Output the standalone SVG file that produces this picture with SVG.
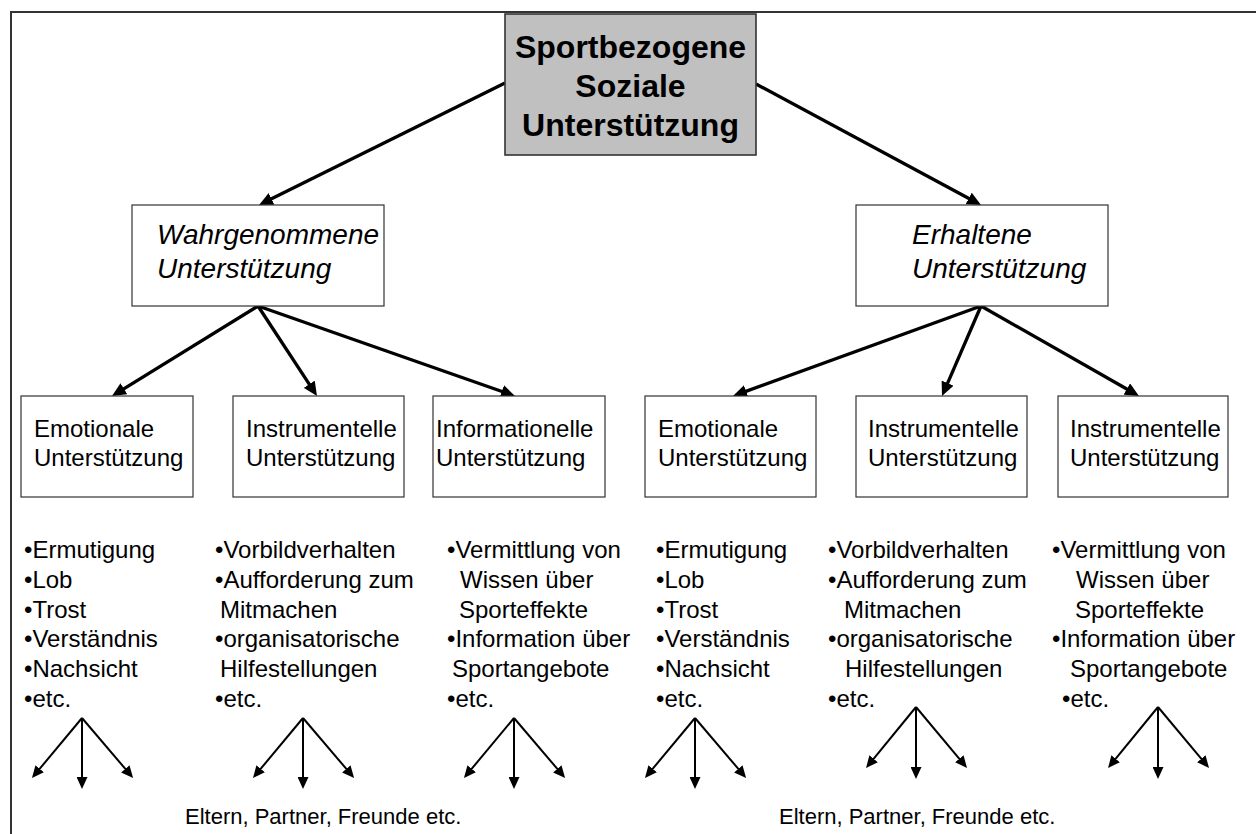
<svg xmlns="http://www.w3.org/2000/svg" width="1256" height="834" viewBox="0 0 1256 834">
  <style>
    text { font-family: "Liberation Sans", Arial, sans-serif; fill: #000; }
    .box { fill: #fff; stroke: #333; stroke-width: 1.2; }
    .root { fill: #c0c0c0; stroke: #333; stroke-width: 1.6; }
    .title { font-size: 32px; font-weight: bold; text-anchor: middle; }
    .mid { font-size: 28px; font-style: italic; }
    .leaf { font-size: 24px; }
    .list { font-size: 24px; }
    .note { font-size: 22px; }
    .big { stroke: #000; stroke-width: 3.3; fill: none; marker-end: url(#headBig); }
    .small { stroke: #000; stroke-width: 2; fill: none; marker-end: url(#headSmall); }
  </style>
  <defs>
    <marker id="headBig" markerUnits="userSpaceOnUse" markerWidth="14" markerHeight="13" refX="4" refY="6.5" orient="auto">
      <path d="M0,0 L14,6.5 L0,13 z" fill="#000"/>
    </marker>
    <marker id="headSmall" markerUnits="userSpaceOnUse" markerWidth="12" markerHeight="11" refX="4" refY="5.5" orient="auto">
      <path d="M0,0 L12,5.5 L0,11 z" fill="#000"/>
    </marker>
  </defs>

  <rect width="1256" height="834" fill="#fff"/>
  <!-- outer frame, runs off the right and bottom edges -->
  <rect x="11" y="12" width="1260" height="840" fill="none" stroke="#333" stroke-width="2"/>

  <g id="connectors">
    <line class="big" x1="505" y1="83" x2="268" y2="200.6"/>
    <line class="big" x1="756" y1="84" x2="972.2" y2="200.3"/>

    <line class="big" x1="258" y1="306" x2="120.5" y2="390.8"/>
    <line class="big" x1="258" y1="306" x2="311.5" y2="387.6"/>
    <line class="big" x1="258" y1="306" x2="505.6" y2="392.7"/>

    <line class="big" x1="981" y1="306" x2="742.4" y2="392.6"/>
    <line class="big" x1="981" y1="306" x2="946" y2="386.8"/>
    <line class="big" x1="981" y1="306" x2="1130.3" y2="391"/>

    <!-- fan-outs under each list -->
    <g transform="translate(82,718)">
      <line class="small" x1="0" y1="0" x2="-44.9" y2="53.9"/>
      <line class="small" x1="0" y1="0" x2="0" y2="63"/>
      <line class="small" x1="0" y1="0" x2="45.9" y2="53.9"/>
    </g>
    <g transform="translate(303,718)">
      <line class="small" x1="0" y1="0" x2="-44.9" y2="53.9"/>
      <line class="small" x1="0" y1="0" x2="0" y2="63"/>
      <line class="small" x1="0" y1="0" x2="45.9" y2="53.9"/>
    </g>
    <g transform="translate(514,718)">
      <line class="small" x1="0" y1="0" x2="-44.9" y2="53.9"/>
      <line class="small" x1="0" y1="0" x2="0" y2="63"/>
      <line class="small" x1="0" y1="0" x2="45.9" y2="53.9"/>
    </g>
    <g transform="translate(695,718)">
      <line class="small" x1="0" y1="0" x2="-44.9" y2="53.9"/>
      <line class="small" x1="0" y1="0" x2="0" y2="63"/>
      <line class="small" x1="0" y1="0" x2="45.9" y2="53.9"/>
    </g>
    <g transform="translate(916,707)">
      <line class="small" x1="0" y1="0" x2="-44.9" y2="54.9"/>
      <line class="small" x1="0" y1="0" x2="0" y2="64"/>
      <line class="small" x1="0" y1="0" x2="45.9" y2="54.9"/>
    </g>
    <g transform="translate(1158,707)">
      <line class="small" x1="0" y1="0" x2="-44.9" y2="54.9"/>
      <line class="small" x1="0" y1="0" x2="0" y2="64"/>
      <line class="small" x1="0" y1="0" x2="45.9" y2="54.9"/>
    </g>
  </g>

  <g id="root">
    <rect class="root" x="505" y="14" width="251" height="141"/>
    <text class="title" x="630.5" y="58">Sportbezogene</text>
    <text class="title" x="630.5" y="97">Soziale</text>
    <text class="title" x="630.5" y="136">Unterstützung</text>
  </g>

  <g id="wahrgenommene">
    <rect class="box" x="132" y="205" width="252" height="101"/>
    <text class="mid" x="157" y="244">Wahrgenommene</text>
    <text class="mid" x="157" y="278">Unterstützung</text>
  </g>

  <g id="erhaltene">
    <rect class="box" x="856" y="205" width="252" height="101"/>
    <text class="mid" x="912" y="244">Erhaltene</text>
    <text class="mid" x="912" y="278">Unterstützung</text>
  </g>

  <g id="w-emotional">
    <rect class="box" x="21" y="396" width="172" height="101"/>
    <text class="leaf" x="34" y="437">Emotionale</text>
    <text class="leaf" x="34" y="466">Unterstützung</text>
  </g>
  <g id="w-instrumental">
    <rect class="box" x="233" y="396" width="171" height="101"/>
    <text class="leaf" x="246" y="437">Instrumentelle</text>
    <text class="leaf" x="246" y="466">Unterstützung</text>
  </g>
  <g id="w-informational">
    <rect class="box" x="433" y="396" width="172" height="101"/>
    <text class="leaf" x="436" y="437">Informationelle</text>
    <text class="leaf" x="436" y="466">Unterstützung</text>
  </g>
  <g id="e-emotional">
    <rect class="box" x="645" y="396" width="171" height="101"/>
    <text class="leaf" x="658" y="437">Emotionale</text>
    <text class="leaf" x="658" y="466">Unterstützung</text>
  </g>
  <g id="e-instrumental-1">
    <rect class="box" x="856" y="396" width="171" height="101"/>
    <text class="leaf" x="868" y="437">Instrumentelle</text>
    <text class="leaf" x="868" y="466">Unterstützung</text>
  </g>
  <g id="e-instrumental-2">
    <rect class="box" x="1058" y="396" width="170" height="101"/>
    <text class="leaf" x="1070" y="437">Instrumentelle</text>
    <text class="leaf" x="1070" y="466">Unterstützung</text>
  </g>

  <g id="list-1">
    <text class="list" x="24" y="558">•Ermutigung</text>
    <text class="list" x="24" y="587.8">•Lob</text>
    <text class="list" x="24" y="617.6">•Trost</text>
    <text class="list" x="24" y="647.4">•Verständnis</text>
    <text class="list" x="24" y="677.2">•Nachsicht</text>
    <text class="list" x="24" y="707">•etc.</text>
  </g>
  <g id="list-2">
    <text class="list" x="215" y="558">•Vorbildverhalten</text>
    <text class="list" x="215" y="587.8">•Aufforderung zum</text>
    <text class="list" x="220" y="617.6">Mitmachen</text>
    <text class="list" x="215" y="647.4">•organisatorische</text>
    <text class="list" x="220" y="677.2">Hilfestellungen</text>
    <text class="list" x="215" y="707">•etc.</text>
  </g>
  <g id="list-3">
    <text class="list" x="447" y="558">•Vermittlung von</text>
    <text class="list" x="460" y="587.8">Wissen über</text>
    <text class="list" x="459" y="617.6">Sporteffekte</text>
    <text class="list" x="447" y="647.4">•Information über</text>
    <text class="list" x="452" y="677.2">Sportangebote</text>
    <text class="list" x="447" y="707">•etc.</text>
  </g>
  <g id="list-4">
    <text class="list" x="656" y="558">•Ermutigung</text>
    <text class="list" x="656" y="587.8">•Lob</text>
    <text class="list" x="656" y="617.6">•Trost</text>
    <text class="list" x="656" y="647.4">•Verständnis</text>
    <text class="list" x="656" y="677.2">•Nachsicht</text>
    <text class="list" x="656" y="707">•etc.</text>
  </g>
  <g id="list-5">
    <text class="list" x="828" y="558">•Vorbildverhalten</text>
    <text class="list" x="828" y="587.8">•Aufforderung zum</text>
    <text class="list" x="844" y="617.6">Mitmachen</text>
    <text class="list" x="828" y="647.4">•organisatorische</text>
    <text class="list" x="845" y="677.2">Hilfestellungen</text>
    <text class="list" x="828" y="707">•etc.</text>
  </g>
  <g id="list-6">
    <text class="list" x="1052" y="558">•Vermittlung von</text>
    <text class="list" x="1076" y="587.8">Wissen über</text>
    <text class="list" x="1075" y="617.6">Sporteffekte</text>
    <text class="list" x="1052" y="647.4">•Information über</text>
    <text class="list" x="1070" y="677.2">Sportangebote</text>
    <text class="list" x="1062" y="707">•etc.</text>
  </g>

  <g id="people-left">
    <text class="note" x="185" y="824">Eltern, Partner, Freunde etc.</text>
  </g>
  <g id="people-right">
    <text class="note" x="779" y="824">Eltern, Partner, Freunde etc.</text>
  </g>
</svg>
